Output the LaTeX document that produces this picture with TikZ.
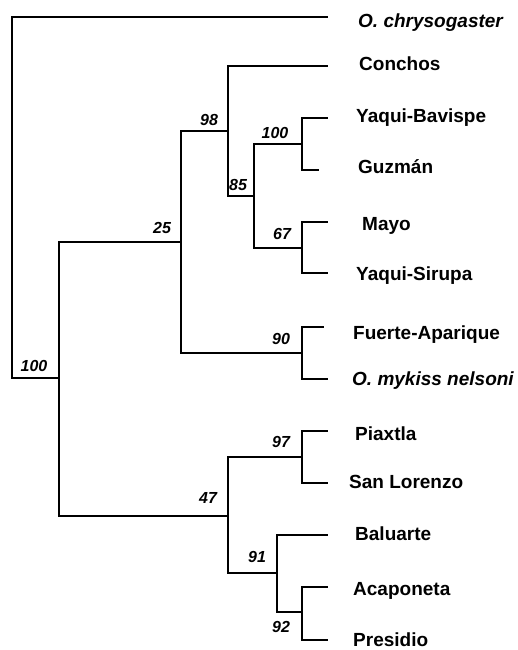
\documentclass[tikz,border=0pt]{standalone}
\usepackage{fontspec}
\setmainfont{Liberation Sans}
\begin{document}
\begin{tikzpicture}[x=1pt,y=-1pt,
  branch/.style={line width=2pt,line join=miter,line cap=rect},
  taxon/.style={anchor=base west,inner sep=0pt,font=\fontsize{19}{21}\selectfont\bfseries},
  taxonit/.style={taxon,font=\fontsize{19}{21}\selectfont\bfseries\itshape},
  boot/.style={anchor=center,inner sep=0pt,font=\fontsize{16}{18}\selectfont\bfseries\itshape}]
\useasboundingbox (0,0) rectangle (518,650);
% leaf tips
\coordinate (L1) at (327,17);
\coordinate (L2) at (327,66);
\coordinate (L3) at (327,118);
\coordinate (L4) at (318,170);
\coordinate (L5) at (327,222);
\coordinate (L6) at (327,273);
\coordinate (L7) at (323,327);
\coordinate (L8) at (327,379);
\coordinate (L9) at (327,431);
\coordinate (L10) at (327,483);
\coordinate (L11) at (327,535);
\coordinate (L12) at (327,587);
\coordinate (L13) at (327,640);
% internal nodes
\coordinate (A) at (302,144);
\coordinate (B) at (302,248);
\coordinate (C) at (254,196);
\coordinate (D) at (228,131);
\coordinate (E) at (302,353);
\coordinate (F) at (181,242);
\coordinate (G) at (302,457);
\coordinate (H) at (302,612);
\coordinate (I) at (277,573);
\coordinate (J) at (228,516);
\coordinate (K) at (59,378);
\coordinate (R) at (12,378);
% branches
\draw[branch] (L1) -| (R) -- (K);
\draw[branch] (F) -| (K) |- (J);
\draw[branch] (D) -| (F) |- (E);
\draw[branch] (L2) -| (D) |- (C);
\draw[branch] (A) -| (C) |- (B);
\draw[branch] (L3) -| (A) |- (L4);
\draw[branch] (L5) -| (B) |- (L6);
\draw[branch] (L7) -| (E) |- (L8);
\draw[branch] (G) -| (J) |- (I);
\draw[branch] (L9) -| (G) |- (L10);
\draw[branch] (L11) -| (I) |- (H);
\draw[branch] (L12) -| (H) |- (L13);
% taxa
\node[taxonit] (t1) at (358,28) {O. chrysogaster};
\node[taxon] (t2) at (359,71) {Conchos};
\node[taxon] (t3) at (356,122) {Yaqui-Bavispe};
\node[taxon] (t4) at (358,173) {Guzmán};
\node[taxon] (t5) at (362,230) {Mayo};
\node[taxon] (t6) at (356,280) {Yaqui-Sirupa};
\node[taxon] (t7) at (353,339) {Fuerte-Aparique};
\node[taxonit] (t8) at (352,385) {O. mykiss nelsoni};
\node[taxon] (t9) at (355,440) {Piaxtla};
\node[taxon] (t10) at (349,488) {San Lorenzo};
\node[taxon] (t11) at (355,540) {Baluarte};
\node[taxon] (t12) at (353,595) {Acaponeta};
\node[taxon] (t13) at (353,646) {Presidio};
% bootstrap values
\node[boot] (b98) at (209,120) {98};
\node[boot] (b100a) at (275,133) {100};
\node[boot] (b85) at (238,185) {85};
\node[boot] (b25) at (162,228) {25};
\node[boot] (b67) at (282,234) {67};
\node[boot] (b90) at (281,339) {90};
\node[boot] (b100r) at (34,366) {100};
\node[boot] (b97) at (281,442) {97};
\node[boot] (b47) at (208,498) {47};
\node[boot] (b91) at (257,557) {91};
\node[boot] (b92) at (281,627) {92};
\end{tikzpicture}
\end{document}
